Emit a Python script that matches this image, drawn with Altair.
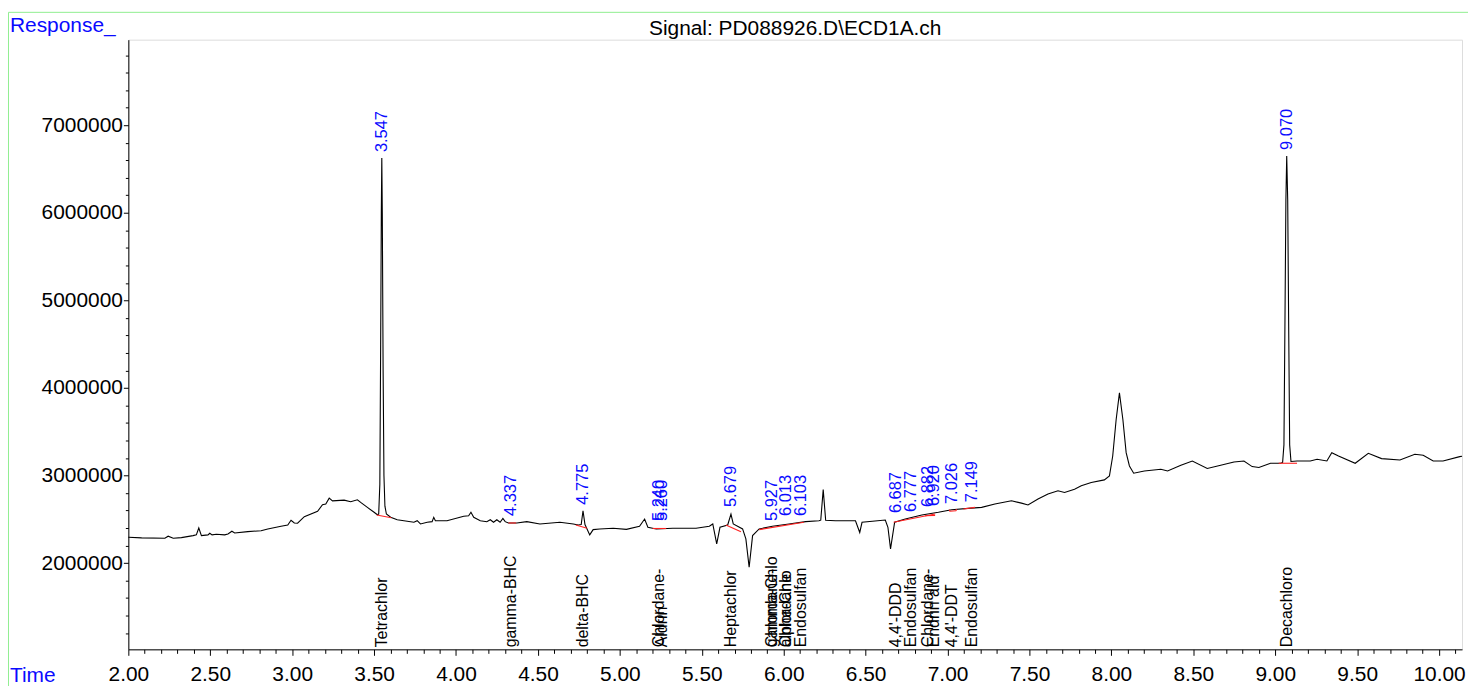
import altair as alt
import pandas as pd

# ---- chromatogram trace (time in min, response) ----
trace_time = [
    2.000, 2.081, 2.223, 2.243, 2.274, 2.324, 2.395, 2.415, 2.430, 2.446,
    2.486, 2.497, 2.511, 2.537, 2.588, 2.608, 2.632, 2.649, 2.729, 2.810,
    2.851, 2.932, 2.973, 2.993, 3.013, 3.033, 3.074, 3.155, 3.185, 3.205,
    3.226, 3.246, 3.317, 3.357, 3.398, 3.418, 3.459, 3.500, 3.520, 3.528,
    3.535, 3.540, 3.544, 3.547, 3.550, 3.555, 3.560, 3.566, 3.575, 3.601,
    3.641, 3.743, 3.763, 3.783, 3.824, 3.854, 3.864, 3.874, 3.945, 4.047,
    4.077, 4.091, 4.108, 4.148, 4.188, 4.209, 4.229, 4.249, 4.269, 4.286,
    4.300, 4.320, 4.371, 4.432, 4.512, 4.634, 4.716, 4.746, 4.764, 4.775,
    4.787, 4.816, 4.837, 4.877, 4.959, 5.040, 5.120, 5.151, 5.171, 5.222,
    5.323, 5.465, 5.546, 5.567, 5.591, 5.611, 5.658, 5.678, 5.692, 5.749,
    5.769, 5.789, 5.810, 5.850, 5.931, 6.032, 6.134, 6.215, 6.226, 6.241,
    6.256, 6.316, 6.438, 6.464, 6.478, 6.620, 6.636, 6.652, 6.677, 6.742,
    6.843, 6.944, 7.025, 7.126, 7.208, 7.289, 7.390, 7.451, 7.491, 7.552,
    7.613, 7.674, 7.714, 7.775, 7.816, 7.877, 7.957, 7.988, 8.008, 8.029,
    8.049, 8.070, 8.090, 8.110, 8.136, 8.201, 8.302, 8.343, 8.424, 8.494,
    8.585, 8.667, 8.748, 8.809, 8.859, 8.900, 8.971, 9.032, 9.045, 9.053,
    9.059, 9.065, 9.070, 9.076, 9.082, 9.088, 9.096, 9.133, 9.214, 9.255,
    9.315, 9.345, 9.386, 9.488, 9.568, 9.649, 9.761, 9.852, 9.903, 9.964,
    10.024, 10.126, 10.140,
]
trace_resp = [
    2.295e6, 2.288e6, 2.284e6, 2.307e6, 2.284e6, 2.291e6, 2.314e6, 2.322e6, 2.401e6, 2.314e6,
    2.322e6, 2.341e6, 2.322e6, 2.330e6, 2.322e6, 2.333e6, 2.364e6, 2.344e6, 2.359e6, 2.370e6,
    2.390e6, 2.420e6, 2.435e6, 2.489e6, 2.458e6, 2.455e6, 2.530e6, 2.591e6, 2.666e6, 2.674e6,
    2.742e6, 2.711e6, 2.719e6, 2.700e6, 2.723e6, 2.693e6, 2.636e6, 2.580e6, 2.552e6, 2.560e6,
    2.900e6, 4.500e6, 6.000e6, 6.625e6, 6.000e6, 4.200e6, 3.000e6, 2.650e6, 2.560e6, 2.523e6,
    2.495e6, 2.466e6, 2.484e6, 2.447e6, 2.466e6, 2.473e6, 2.523e6, 2.484e6, 2.484e6, 2.534e6,
    2.541e6, 2.580e6, 2.523e6, 2.484e6, 2.473e6, 2.495e6, 2.466e6, 2.495e6, 2.466e6, 2.511e6,
    2.473e6, 2.458e6, 2.458e6, 2.473e6, 2.447e6, 2.466e6, 2.447e6, 2.435e6, 2.440e6, 2.598e6,
    2.440e6, 2.322e6, 2.382e6, 2.390e6, 2.398e6, 2.385e6, 2.420e6, 2.503e6, 2.409e6, 2.390e6,
    2.398e6, 2.398e6, 2.420e6, 2.447e6, 2.219e6, 2.409e6, 2.435e6, 2.560e6, 2.447e6, 2.390e6,
    2.276e6, 1.952e6, 2.314e6, 2.390e6, 2.420e6, 2.447e6, 2.473e6, 2.484e6, 2.490e6, 2.839e6,
    2.490e6, 2.484e6, 2.484e6, 2.350e6, 2.466e6, 2.492e6, 2.409e6, 2.163e6, 2.466e6, 2.503e6,
    2.549e6, 2.580e6, 2.609e6, 2.625e6, 2.636e6, 2.674e6, 2.711e6, 2.685e6, 2.663e6, 2.731e6,
    2.788e6, 2.825e6, 2.807e6, 2.844e6, 2.882e6, 2.920e6, 2.950e6, 2.995e6, 3.223e6, 3.640e6,
    3.943e6, 3.640e6, 3.261e6, 3.109e6, 3.026e6, 3.052e6, 3.072e6, 3.052e6, 3.117e6, 3.166e6,
    3.080e6, 3.117e6, 3.155e6, 3.166e6, 3.102e6, 3.091e6, 3.140e6, 3.140e6, 3.150e6, 3.350e6,
    4.700e6, 6.150e6, 6.650e6, 6.150e6, 4.700e6, 3.350e6, 3.160e6, 3.166e6, 3.166e6, 3.185e6,
    3.166e6, 3.261e6, 3.223e6, 3.140e6, 3.253e6, 3.193e6, 3.177e6, 3.242e6, 3.231e6, 3.166e6,
    3.166e6, 3.216e6, 3.220e6,
]

# ---- integration baselines (red) ----
base_t0 = [3.516, 4.320, 4.731, 5.200, 5.647, 5.850, 6.671, 6.862, 7.012, 7.012, 7.053, 7.096, 9.021]
base_t1 = [3.605, 4.367, 4.800, 5.283, 5.739, 6.123, 6.924, 6.924, 7.053, 7.012, 7.053, 7.167, 9.133]
base_r0 = [2.549e6, 2.458e6, 2.435e6, 2.395e6, 2.435e6, 2.382e6, 2.466e6, 2.540e6, 2.592e6, 2.592e6, 2.597e6, 2.617e6, 3.140e6]
base_r1 = [2.518e6, 2.458e6, 2.398e6, 2.395e6, 2.359e6, 2.466e6, 2.560e6, 2.545e6, 2.597e6, 2.612e6, 2.618e6, 2.636e6, 3.140e6]

# ---- peak retention-time labels (blue) ----
peak_labels = ["3.547", "4.337", "4.775", "5.240", "5.260", "5.679", "5.927", "6.013",
               "6.103", "6.687", "6.777", "6.882", "6.920", "7.026", "7.149", "9.070"]
peak_heights = [6.625e6, 2.469e6, 2.598e6, 2.413e6, 2.413e6, 2.572e6, 2.413e6, 2.469e6,
                2.469e6, 2.503e6, 2.515e6, 2.572e6, 2.583e6, 2.606e6, 2.628e6, 6.650e6]

# ---- compound names (black, at the bottom) ----
name_times = [3.547, 4.337, 4.775, 5.240, 5.260, 5.679, 5.927, 5.927, 6.013, 6.013,
              6.103, 6.687, 6.777, 6.882, 6.920, 7.026, 7.149, 9.070]
name_texts = ["Tetrachlor", "gamma-BHC", "delta-BHC", "Chlordane-", "Aldrin", "Heptachlor",
              "gamma-Chlo", "Chlordane-", "alpha-Chlo", "Chlordane", "Endosulfan",
              "4,4'-DDD", "Endosulfan", "Chlordane-", "Endrin ald", "4,4'-DDT",
              "Endosulfan", "Decachloro"]

title_text = "Signal: PD088926.D\\ECD1A.ch"

FONT = "Liberation Sans, Arial, Helvetica, sans-serif"
BLUE = "#0a0aff"
W, H = 1341, 613

trace_df = pd.DataFrame({"t": trace_time, "r": trace_resp})
base_df = pd.DataFrame({"t0": base_t0, "t1": base_t1, "r0": base_r0, "r1": base_r1})
peak_df = pd.DataFrame({"t": [float(s) for s in peak_labels], "r": peak_heights, "lbl": peak_labels})
name_df = pd.DataFrame({"t": name_times, "name": name_texts})
one = pd.DataFrame({"a": [0]})

xscale = alt.Scale(domain=[2.0, 10.14], nice=False, zero=False)
yscale = alt.Scale(domain=[1.015e6, 7.977e6], nice=False, zero=False)

x_major = "abs(datum.value*2 - round(datum.value*2)) < 0.001"
y_major = "datum.value % 1000000 == 0"

xaxis = alt.Axis(
    values=[round(2.0 + 0.1 * i, 1) for i in range(82)],
    labelExpr=f"{x_major} ? format(datum.value, '.2f') : ''",
    tickSize={"condition": {"test": x_major, "value": 6}, "value": 4},
    labelFont=FONT, labelFontSize=21, labelColor="black",
    domainColor="black", tickColor="black", domainWidth=1, tickWidth=1,
    grid=False, title=None, labelPadding=8, labelOverlap=False, labelFlush=False,
)
yaxis = alt.Axis(
    values=[int(1_200_000 + 200_000 * i) for i in range(34)],
    labelExpr=f"{y_major} ? format(datum.value, 'd') : ''",
    tickSize={"condition": {"test": y_major, "value": 5}, "value": 3},
    labelFont=FONT, labelFontSize=21, labelColor="black",
    domainColor="black", tickColor="black", domainWidth=1, tickWidth=1,
    grid=False, title=None, labelPadding=1, labelOverlap=False, labelFlush=False,
)

frame = alt.Chart(one).mark_rect(fill=None, stroke="#90ee90", strokeWidth=1).encode(
    x=alt.value(-120.5), x2=alt.value(W + 60), y=alt.value(-27.5), y2=alt.value(H + 80)
)

line = alt.Chart(trace_df).mark_line(color="black", strokeWidth=1.1).encode(
    x=alt.X("t:Q", scale=xscale, axis=xaxis),
    y=alt.Y("r:Q", scale=yscale, axis=yaxis),
    order="t:Q",
)

baselines = alt.Chart(base_df).mark_rule(color="#ff2020", strokeWidth=1.1).encode(
    x=alt.X("t0:Q", scale=xscale, axis=xaxis), x2="t1:Q",
    y=alt.Y("r0:Q", scale=yscale, axis=yaxis), y2="r1:Q",
)

peaks = alt.Chart(peak_df).mark_text(
    angle=270, align="left", baseline="middle", dx=6,
    font=FONT, fontSize=16.5, color=BLUE,
).encode(
    x=alt.X("t:Q", scale=xscale, axis=xaxis),
    y=alt.Y("r:Q", scale=yscale, axis=yaxis),
    text="lbl:N",
)

names = alt.Chart(name_df).mark_text(
    angle=270, align="left", baseline="middle", dx=2,
    font=FONT, fontSize=16, color="black",
).encode(
    x=alt.X("t:Q", scale=xscale, axis=xaxis),
    y=alt.value(H),
    text="name:N",
)

resp_lbl = alt.Chart(one).mark_text(
    text="Response_", align="left", baseline="alphabetic", font=FONT, fontSize=21, color=BLUE
).encode(x=alt.value(-119), y=alt.value(-8))

time_lbl = alt.Chart(one).mark_text(
    text="Time", align="left", baseline="alphabetic", font=FONT, fontSize=21, color=BLUE
).encode(x=alt.value(-119), y=alt.value(H + 33))

title_lbl = alt.Chart(one).mark_text(
    text=title_text, align="center", baseline="alphabetic", font=FONT, fontSize=21, color="black"
).encode(x=alt.value(W / 2), y=alt.value(-5))

chart = alt.layer(
    frame, line, baselines, peaks, names, resp_lbl, time_lbl, title_lbl
).properties(
    width=W, height=H,
    autosize=alt.AutoSizeParams(type="none"),
    padding={"left": 121, "top": 30, "right": 6, "bottom": 35},
).configure_view(stroke=None).configure(background="white")

chart.save("out.html", embed_options={"renderer": "svg", "actions": False})
